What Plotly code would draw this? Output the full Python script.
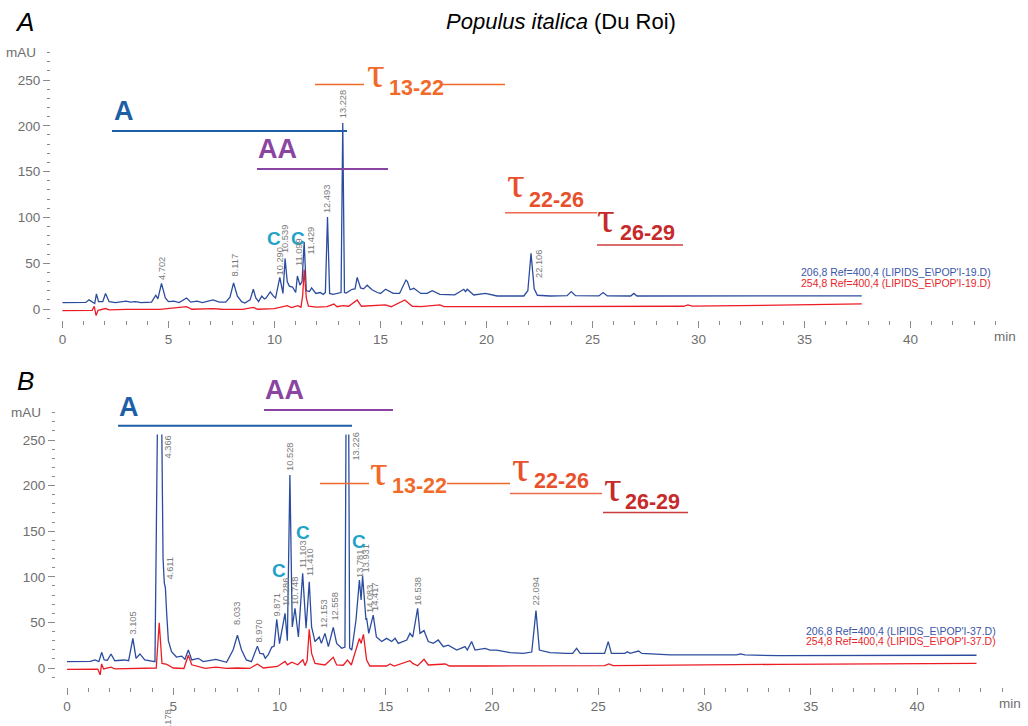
import plotly.graph_objects as go

# ---------------- data ----------------
# Panel A : Populus italica, run POP'I-19
a_time_206 = [0.0, 1.1, 1.25, 1.4, 1.52, 1.6, 1.7, 1.9, 2.03, 2.2, 2.5, 3.0, 3.2, 3.45, 3.7, 4.2, 4.4, 4.5,
              4.67, 4.85, 5.0, 5.25, 5.5, 5.85, 6.05, 6.35, 6.6, 7.1, 7.4, 7.7, 7.9, 8.07, 8.25, 8.45, 8.6,
              8.85, 9.0, 9.12, 9.25, 9.4, 9.52, 9.6, 9.8, 9.95, 10.05, 10.25, 10.4, 10.5, 10.6, 10.7, 10.85,
              11.0, 11.08, 11.2, 11.3, 11.4, 11.5, 11.65, 11.75, 11.95, 12.15, 12.3, 12.4, 12.5, 12.6, 12.75,
              13.04, 13.14, 13.22, 13.3, 13.38, 13.66, 13.8, 13.9, 14.06, 14.2, 14.37, 14.6, 14.85, 15.0,
              15.24, 15.6, 15.9, 16.12, 16.2, 16.27, 16.4, 16.57, 16.9, 17.2, 17.44, 17.8, 18.5, 18.93, 19.01,
              19.09, 19.4, 19.95, 20.5, 21.76, 21.95, 22.1, 22.25, 22.4, 23.0, 23.8, 24.0, 24.2, 25.3, 25.5,
              25.7, 26.8, 26.95, 27.1, 30.0, 33.0, 35.0, 37.7]
a_mau_206 = [7, 7.2, 10, 7.5, 6, 16.4, 8, 8, 17, 8, 7, 8.5, 7.5, 8, 7, 7.5, 15, 11,
             28, 12, 8, 8.5, 7, 12, 7.5, 8.5, 7, 10, 7.5, 7.5, 13, 28.5, 14, 8, 6.5,
             10, 21.5, 12, 8, 14, 11, 12, 18.8, 14, 12, 34.5, 17, 55, 30, 25, 24,
             18, 36, 26, 30, 73, 20, 19, 23, 17, 18, 16, 18, 100.5, 17, 16,
             18, 18, 203, 18, 17.5, 21.5, 22, 34.5, 23, 22, 26, 21, 18, 17,
             21.5, 17, 17, 28, 31.6, 30, 21, 22.6, 17, 17, 20, 16, 15.5, 21.5, 19,
             21.5, 15.3, 17, 14.2, 14.2, 20, 60.8, 22, 15, 14.2, 14.5, 19, 14.5, 14.3, 18,
             14.3, 14.2, 17, 14.2, 14.3, 14.3, 14.5, 14.3]
a_time_254 = [0.0, 1.4, 1.5, 1.58, 1.68, 2.03, 2.2, 3.0, 4.6, 5.85, 6.1, 7.1, 7.5, 8.5, 9.0, 9.2, 10.0,
              10.6, 10.8, 11.1, 11.25, 11.33, 11.4, 11.5, 11.6, 12.0, 12.48, 12.8, 12.95, 13.22, 13.5,
              13.9, 14.1, 15.24, 15.5, 16.15, 16.3, 16.5, 16.9, 17.8, 18.0, 20.35, 22.0, 25.0, 29.3,
              29.5, 29.7, 33.0, 37.7]
a_mau_254 = [-1.8, -1.5, 3, -7, -1.5, 0.5, -1, -0.5, -0.5, 2.5, -0.3, 0.5, -0.3, -0.5, 1.8, -0.3, 0.5,
             3.7, 1.5, 3.7, 2, 15, 43, 12, 3, 2, 2.5, 5.4, 2.5, 3.7, 3,
             9.8, 3, 4.4, 2.5, 9.8, 6.9, 3, 2.5, 4.4, 2.5, 2.5, 2.5, 2.8, 3,
             4.4, 3.2, 4, 5.5]
a_peak_labels = ["4.702", "8.117", "10.290", "10.539", "11.099", "11.429", "12.493", "13.228", "22.106"]
a_peak_label_time = [4.72, 8.14, 10.28, 10.5, 11.16, 11.7, 12.48, 13.23, 22.48]
a_peak_label_mau = [29.5, 32.8, 34.9, 59, 44.8, 56.8, 102.6, 206, 31.7]

# Panel B : run POP'I-37
b_time_206 = [0.0, 1.1, 1.32, 1.5, 1.63, 1.75, 1.9, 2.07, 2.25, 2.7, 2.9, 3.1, 3.25, 3.43, 3.66, 4.14,
              4.36, 4.52, 4.58, 4.63, 4.69, 4.77, 4.92, 5.15, 5.4, 5.55, 5.71, 5.87, 6.18, 6.41, 7.01,
              7.51, 7.82, 8.02, 8.21, 8.44, 8.68, 8.96, 9.08, 9.24, 9.33, 9.48, 9.64, 9.75, 9.87, 10.0,
              10.26, 10.37, 10.49, 10.6, 10.73, 10.89, 11.09, 11.25, 11.4, 11.51, 11.67, 11.87, 11.97,
              12.14, 12.3, 12.53, 12.69, 12.93, 13.08, 13.2, 13.3, 13.4, 13.47, 13.6, 13.76, 13.84,
              13.91, 14.07, 14.1, 14.2, 14.41, 14.56, 14.81, 15.04, 15.28, 15.44, 15.59, 15.83, 15.99,
              16.14, 16.27, 16.5, 16.61, 16.8, 17.0, 17.24, 17.47, 17.71, 17.94, 18.34, 18.73, 18.84,
              19.04, 19.2, 19.67, 19.91, 20.22, 20.85, 21.47, 21.87, 22.07, 22.23, 22.73, 23.5, 23.8,
              23.98, 24.15, 25.3, 25.47, 25.62, 26.25, 26.37, 26.5, 26.9, 27.05, 28.4, 31.5, 31.7,
              31.9, 33.5, 38.0, 42.8]
b_mau_206 = [7, 7.2, 8.8, 7, 17.2, 8.8, 8.5, 15.4, 8, 8.8, 8, 32.5, 10.6, 15.4, 8.8, 7,
             500, 120, 93, 88, 60, 30, 18, 12, 13, 9.5, 19.7, 8.8, 10.6, 7, 9.5,
             6.3, 20, 36, 20, 8.8, 7, 24, 16, 15.4, 10.6, 15, 23, 24, 53.4, 26.7,
             60, 30, 211.6, 45, 65.5, 34, 103.8, 43.5, 94.6, 45, 29, 34, 27,
             38, 23.4, 44.6, 27, 21.6, 23, 600, 22, 19.7, 30.7, 52.6, 96.5, 74.6,
             100.9, 52.6, 54.8, 38, 58, 34, 29, 32.5, 29, 32.5, 27, 29, 30.7,
             38, 34, 65.5, 38, 41, 29, 27, 30.7, 23.4, 25, 19.7, 23.4, 19.7,
             29, 19.7, 21.6, 19.7, 19.7, 16.8, 16, 17.5, 62.9, 19.7, 16.8, 16, 16,
             21.6, 16, 16, 28.9, 16, 16, 17.9, 16, 18.6, 16, 14.3, 14.5, 15.5,
             14.3, 13.5, 14, 14]
b_time_254 = [0.0, 1.45, 1.56, 1.63, 1.72, 2.07, 2.25, 4.1, 4.2, 4.34, 4.47, 4.7, 5.0, 5.5, 5.71, 5.87,
              6.18, 6.5, 7.01, 7.5, 8.0, 8.6, 8.96, 9.24, 9.9, 10.26, 10.37, 10.58, 10.86, 11.1, 11.2,
              11.3, 11.4, 11.51, 11.67, 12.14, 12.53, 12.69, 13.0, 13.2, 13.38, 13.6, 13.76, 13.84,
              13.95, 14.1, 14.25, 15.04, 15.2, 15.4, 16.14, 16.27, 16.5, 16.8, 17.0, 17.8, 18.0, 19.6,
              20.4, 25.3, 25.5, 25.7, 33.5, 42.8]
b_mau_254 = [-1.5, -1.2, -7.5, 4.5, -1, 1, -1, -0.8, 0, 49.7, 5, 4, 0, -0.5, 14, 3.5,
             1.7, -0.5, 1, -0.5, 0, -0.5, 4.4, 0, 1.7, 7.3, 3.5, 6.3, 3.5, 9.1, 2.6,
             8, 42.4, 16, 5.1, 3.3, 11.7, 3.3, 3, 8.8, 3.3, 19.7, 32.5, 27,
             36.9, 8.8, 2.2, 2.2, 4.4, 2.2, 8, 5.1, 2.5, 9.5, 3.3, 4.4, 2.2, 2.2,
             2.2, 2.5, 4.4, 2.5, 4, 5.1]
b_peak_labels = ["3.105", "4.366", "4.611", "8.033", "8.970", "9.871", "10.286", "10.528", "10.748",
                 "11.103", "11.410", "12.153", "12.558", "13.226", "13.781", "13.931", "14.083",
                 "14.417", "16.538", "22.094"]
b_peak_label_time = [3.11, 4.75, 4.85, 8.02, 8.99, 9.88, 10.31, 10.49, 10.73, 11.11, 11.44, 12.09,
                     12.59, 13.58, 13.79, 14.05, 14.26, 14.49, 16.54, 22.09]
b_peak_label_mau = [34, 228, 94.3, 45, 25.2, 54.8, 65.8, 213.8, 66.9, 107.5, 98.7, 41.7, 49.3,
                    224.8, 96.5, 102, 58.1, 60.3, 66.9, 66.9]

legend_206_a = "206,8 Ref=400,4 (LIPIDS_E\\POP'I-19.D)"
legend_254_a = "254,8 Ref=400,4 (LIPIDS_E\\POP'I-19.D)"
legend_206_b = "206,8 Ref=400,4 (LIPIDS_E\\POP'I-37.D)"
legend_254_b = "254,8 Ref=400,4 (LIPIDS_E\\POP'I-37.D)"

# ---------------- styling ----------------
W, H = 1028, 726
FONT = "Liberation Sans, Arial, sans-serif"
BLUE = "#2b4c9e"
RED = "#ec1c24"
TICKC = "#8a8a8a"
LABC = "#6e6e6e"
C_A = "#1d5fa6"
C_AA = "#8a45a3"
C_T1 = "#f26a2a"
C_T2 = "#e8502d"
C_T3 = "#c62a2a"
C_C = "#1fa3c9"
PEAKC = "#7a7a7a"


def px(x):
    return x / W


def py(y):
    return 1 - y / H


fig = go.Figure()

line_kw = dict(mode="lines", hoverinfo="skip", showlegend=False)
fig.add_trace(go.Scatter(x=a_time_206, y=a_mau_206, line=dict(color=BLUE, width=1.3),
                         xaxis="x", yaxis="y", **line_kw))
fig.add_trace(go.Scatter(x=a_time_254, y=a_mau_254, line=dict(color=RED, width=1.3),
                         xaxis="x", yaxis="y", **line_kw))
fig.add_trace(go.Scatter(x=b_time_206, y=b_mau_206, line=dict(color=BLUE, width=1.3),
                         xaxis="x2", yaxis="y3", **line_kw))
fig.add_trace(go.Scatter(x=b_time_254, y=b_mau_254, line=dict(color=RED, width=1.3),
                         xaxis="x2", yaxis="y3", **line_kw))
# empty trace so that the tick-only axes of panel B exist
fig.add_trace(go.Scatter(x=[None], y=[None], xaxis="x3", yaxis="y4", **line_kw))

tickfont = dict(family=FONT, size=13.5, color=LABC)


def xax(domain, pos):
    return dict(domain=domain, range=[-0.6, 44.2], anchor="free", position=pos,
                showline=False, showgrid=False, zeroline=False,
                tickmode="linear", tick0=0, dtick=5, ticks="outside", ticklen=7,
                tickcolor=TICKC, tickwidth=1, tickfont=tickfont,
                minor=dict(ticks="outside", tick0=0, dtick=1, ticklen=3.5, tickcolor=TICKC,
                           tickwidth=1, showgrid=False))


def yax(domain, pos):
    return dict(domain=domain, range=[-10.5, 280.5], anchor="free", position=pos,
                showline=False, showgrid=False, zeroline=False,
                tickmode="linear", tick0=0, dtick=50, ticks="outside", ticklen=7,
                tickcolor=TICKC, tickwidth=1, tickfont=tickfont,
                minor=dict(ticks="outside", tick0=0, dtick=10, ticklen=3.5, tickcolor=TICKC,
                           tickwidth=1, showgrid=False))


# panel A geometry: 0 min at x=62.5 px, 21.2 px/min ; 0 mAU at y=309, 0.916 px/mAU
a_left, a_right = 62.5 - 0.6 * 21.2, 62.5 + 44.2 * 21.2
# panel B geometry: 0 min at x=67, 21.25 px/min ; 0 mAU at y=668, 0.912 px/mAU
b_left, b_right = 67 - 0.6 * 21.25, 67 + 44.2 * 21.25

fig.update_layout(
    width=W, height=H, autosize=False,
    margin=dict(l=0, r=0, t=0, b=0),
    paper_bgcolor="white", plot_bgcolor="rgba(0,0,0,0)",
    font=dict(family=FONT),
    showlegend=False,
    xaxis=xax([px(a_left), px(a_right)], py(320)),
    yaxis=yax([py(309 + 10.5 * 0.916), py(309 - 280.5 * 0.916)], px(50)),
    xaxis2=xax([px(b_left), px(b_right)], py(687)),
    yaxis3=dict(domain=[py(668 + 10.5 * 0.912), py(668 - 256 * 0.912)], range=[-10.5, 256],
                anchor="x2", visible=False),
    xaxis3=dict(domain=[px(b_left), px(b_right)], range=[-0.6, 44.2], anchor="y4", visible=False),
    yaxis4=yax([py(668 + 10.5 * 0.912), py(668 - 280.5 * 0.912)], px(55)),
)

ann = []


def text(x, y, s, size, color, xanchor="center", yanchor="middle", family=FONT, **kw):
    ann.append(dict(x=px(x), y=py(y), xref="paper", yref="paper", text=s, showarrow=False,
                    xanchor=xanchor, yanchor=yanchor,
                    font=dict(family=family, size=size, color=color), **kw))


# headings
text(24, 22, "<i>A</i>", 26, "black")
text(25, 381, "<i>B</i>", 26, "black")
text(561, 22, "<i>Populus italica</i> (Du Roi)", 22, "black")

# y unit and x unit
text(38, 52.5, "mAU", 13.5, LABC, xanchor="right")
text(43, 412.5, "mAU", 13.5, LABC, xanchor="right")
text(1005, 336, "min", 13.5, LABC)
text(1010, 703, "min", 13.5, LABC)

# detector legends
text(993, 271.7, legend_206_a, 10.5, "#3a56a8", xanchor="right")
text(993, 282.7, legend_254_a, 10.5, "#e8262a", xanchor="right")
text(997.7, 630.7, legend_206_b, 10.5, "#3a56a8", xanchor="right")
text(997.7, 640.7, legend_254_b, 10.5, "#e8262a", xanchor="right")

# group labels
text(124, 110.5, "<b>A</b>", 27, C_A)
text(277.5, 149, "<b>AA</b>", 27, C_AA)
text(128.5, 407, "<b>A</b>", 27, C_A)
text(284.5, 390, "<b>AA</b>", 27, C_AA)
for (cx, cy) in [(274, 238.5), (297.5, 238.5), (279, 570.5), (302.5, 532.5), (359, 541.5)]:
    text(cx, cy, "<b>C</b>", 19, C_C)


def tau(x_tau, y_tau, x_sub, y_sub, sub, color):
    text(x_tau, y_tau, "τ", 44, color, family="Liberation Serif, DejaVu Serif, serif")
    text(x_sub, y_sub, "<b>" + sub + "</b>", 21.5, color, xanchor="left")


tau(376, 72, 387, 88, "13-22", C_T1)
tau(516, 183, 527, 200, "22-26", C_T2)
tau(606, 217, 618, 232.5, "26-29", C_T3)
tau(378.5, 470, 390, 486, "13-22", C_T1)
tau(521, 466, 532, 481.5, "22-26", C_T2)
tau(612.5, 486, 623, 501.5, "26-29", C_T3)

# peak retention-time labels
for lab, t, v in zip(a_peak_labels, a_peak_label_time, a_peak_label_mau):
    ann.append(dict(x=t, y=v, xref="x", yref="y", text=lab, showarrow=False, textangle=-90,
                    xanchor="center", yanchor="bottom",
                    font=dict(family=FONT, size=9.3, color=PEAKC)))
for lab, t, v in zip(b_peak_labels, b_peak_label_time, b_peak_label_mau):
    ann.append(dict(x=t, y=v, xref="x2", yref="y3", text=lab, showarrow=False, textangle=-90,
                    xanchor="center", yanchor="bottom",
                    font=dict(family=FONT, size=9.3, color=PEAKC)))
ann.append(dict(x=px(167), y=py(708), xref="paper", yref="paper", text="4.178", showarrow=False,
                textangle=-90, xanchor="center", yanchor="top",
                font=dict(family=FONT, size=9.3, color=PEAKC)))

shapes = []


def hline(x0, x1, y, color, width):
    shapes.append(dict(type="line", xref="paper", yref="paper", x0=px(x0), x1=px(x1),
                       y0=py(y), y1=py(y), line=dict(color=color, width=width)))


# panel A brackets
hline(112, 347, 131, C_A, 2)
hline(257, 388, 169, C_AA, 2)
hline(315, 364, 84.5, C_T1, 1.4)
hline(441, 505, 84.5, C_T1, 1.4)
hline(505, 597, 212.7, "#ec6a50", 1.6)
hline(597, 683, 245, "#cc3c3c", 1.6)
# panel B brackets
hline(118, 352, 425.7, C_A, 2)
hline(264, 393, 410, C_AA, 2)
hline(320, 369, 483.5, C_T1, 1.4)
hline(447, 510, 483.5, C_T1, 1.4)
hline(510, 602, 493.5, "#ec6a50", 1.6)
hline(603, 688, 512.5, "#cc3c3c", 1.6)

fig.update_layout(annotations=ann, shapes=shapes)
fig.write_html(
    "out.html",
    config={"displayModeBar": False},
    post_script="document.documentElement.style.margin='0';document.body.style.margin='0';"
                "document.body.style.overflow='hidden';",
)
